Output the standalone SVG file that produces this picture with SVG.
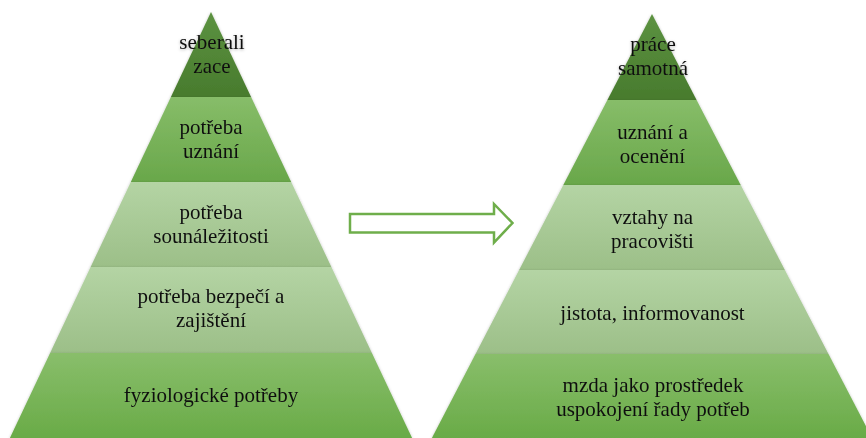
<svg xmlns="http://www.w3.org/2000/svg" width="866" height="438" viewBox="0 0 866 438">
<defs>
<linearGradient id="g1" x1="0" y1="0" x2="0" y2="1"><stop offset="0" stop-color="#5c9241"/><stop offset="1" stop-color="#487b2d"/></linearGradient>
<linearGradient id="g2" x1="0" y1="0" x2="0" y2="1"><stop offset="0" stop-color="#87bd69"/><stop offset="1" stop-color="#69a74a"/></linearGradient>
<linearGradient id="g3" x1="0" y1="0" x2="0" y2="1"><stop offset="0" stop-color="#b4d4a4"/><stop offset="1" stop-color="#9cbf88"/></linearGradient>
<linearGradient id="g5" x1="0" y1="0" x2="0" y2="1"><stop offset="0" stop-color="#89be6b"/><stop offset="1" stop-color="#69ab47"/></linearGradient>
<filter id="sh" x="-10%" y="-10%" width="120%" height="120%"><feDropShadow dx="0" dy="1" stdDeviation="1.5" flood-color="#000" flood-opacity="0.3"/></filter>
</defs>
<style>
.t{font-family:"Liberation Serif","Times New Roman",serif;font-size:21px;fill:#111;text-anchor:middle}
.b{filter:url(#sh)}
.arrow{fill:#fff;stroke:#6fae4b;stroke-width:2.5;stroke-linejoin:miter}
</style>
<rect width="866" height="438" fill="#fff"/>
<g id="left-pyramid">
<g id="l1" class="b"><polygon points="211,12 251.1,97 170.9,97" fill="url(#g1)"/><text class="t" x="212" y="49">seberali</text><text class="t" x="212" y="73">zace</text></g>
<g id="l2" class="b"><polygon points="170.9,97 251.1,97 291.2,182 130.8,182" fill="url(#g2)"/><text class="t" x="211" y="134">potřeba</text><text class="t" x="211" y="158">uznání</text></g>
<g id="l3" class="b"><polygon points="130.8,182 291.2,182 331.4,267 90.6,267" fill="url(#g3)"/><text class="t" x="211" y="219">potřeba</text><text class="t" x="211" y="243">sounáležitosti</text></g>
<g id="l4" class="b"><polygon points="90.6,267 331.4,267 371.9,353 50.1,353" fill="url(#g3)"/><text class="t" x="211" y="303">potřeba bezpečí a</text><text class="t" x="211" y="327">zajištění</text></g>
<g id="l5" class="b"><polygon points="50.1,353 371.9,353 412.1,438 9.9,438" fill="url(#g5)"/><text class="t" x="211" y="402">fyziologické potřeby</text></g>
</g>
<g id="right-pyramid">
<g id="r1" class="b"><polygon points="652,14 696.6,100 607.4,100" fill="url(#g1)"/><text class="t" x="653" y="50.5">práce</text><text class="t" x="653" y="74.5">samotná</text></g>
<g id="r2" class="b"><polygon points="607.4,100 696.6,100 740.7,185 563.3,185" fill="url(#g2)"/><text class="t" x="652.5" y="139">uznání a</text><text class="t" x="652.5" y="163">ocenění</text></g>
<g id="r3" class="b"><polygon points="563.3,185 740.7,185 784.9,270 519.1,270" fill="url(#g3)"/><text class="t" x="652.5" y="223.5">vztahy na</text><text class="t" x="652.5" y="247.5">pracovišti</text></g>
<g id="r4" class="b"><polygon points="519.1,270 784.9,270 828.5,354 475.5,354" fill="url(#g3)"/><text class="t" x="652.5" y="320">jistota, informovanost</text></g>
<g id="r5" class="b"><polygon points="475.5,354 828.5,354 872.1,438 431.9,438" fill="url(#g5)"/><text class="t" x="653" y="392">mzda jako prostředek</text><text class="t" x="653" y="416">uspokojení řady potřeb</text></g>
</g>
<g id="connectors">
<polygon class="arrow" points="350,214 494,214 494,204 512.5,223 494,242.5 494,232.5 350,232.5"/>
</g>
</svg>
